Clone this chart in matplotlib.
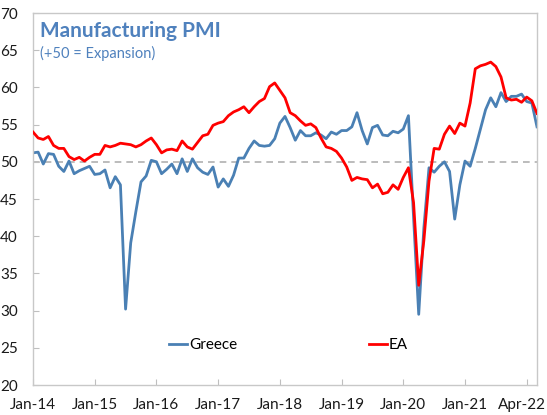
import matplotlib
matplotlib.use("Agg")
import matplotlib.pyplot as plt
import matplotlib.transforms as mtransforms
import numpy as np

# Monthly data, Jan-14 .. Mar-22
ea = [54.0, 53.2, 53.0, 53.4, 52.2, 51.8, 51.8, 50.7, 50.3, 50.6, 50.1, 50.6,
      51.0, 51.0, 52.2, 52.0, 52.2, 52.5, 52.4, 52.3, 52.0, 52.3, 52.8, 53.2,
      52.3, 51.2, 51.6, 51.7, 51.5, 52.8, 52.0, 51.7, 52.6, 53.5, 53.7, 54.9,
      55.2, 55.4, 56.2, 56.7, 57.0, 57.4, 56.6, 57.4, 58.1, 58.5, 60.1, 60.6,
      59.6, 58.6, 56.6, 56.2, 55.5, 54.9, 55.1, 54.6, 53.2, 52.0, 51.8, 51.4,
      50.5, 49.3, 47.5, 47.9, 47.7, 47.6, 46.5, 47.0, 45.7, 45.9, 46.9, 46.3,
      47.9, 49.2, 44.5, 33.4, 39.4, 47.4, 51.8, 51.7, 53.7, 54.8, 53.8, 55.2,
      54.8, 57.9, 62.5, 62.9, 63.1, 63.4, 62.8, 61.4, 58.6, 58.3, 58.4, 58.0,
      58.7, 58.2, 56.5]

greece = [51.2, 51.3, 49.7, 51.1, 51.0, 49.4, 48.7, 50.1, 48.4, 48.8, 49.1, 49.4,
          48.3, 48.4, 48.9, 46.5, 48.0, 46.9, 30.2, 39.1, 43.3, 47.3, 48.1, 50.2,
          50.0, 48.4, 49.0, 49.7, 48.4, 50.4, 48.7, 50.4, 49.2, 48.6, 48.3, 49.3,
          46.6, 47.7, 46.7, 48.2, 50.5, 50.5, 51.8, 52.8, 52.2, 52.1, 52.2, 53.1,
          55.2, 56.1, 54.6, 52.9, 54.2, 53.5, 53.5, 53.9, 53.6, 53.1, 54.0, 53.7,
          54.2, 54.2, 54.7, 56.6, 54.2, 52.4, 54.6, 54.9, 53.6, 53.5, 54.1, 53.9,
          54.4, 56.2, 42.5, 29.5, 41.1, 49.2, 48.6, 49.4, 50.0, 48.7, 42.3, 46.9,
          50.1, 49.4, 51.8, 54.4, 57.0, 58.6, 57.4, 59.3, 58.1, 58.8, 58.8, 59.1,
          58.1, 57.9, 54.7]

tick_labels = ["Jan-14", "Jan-15", "Jan-16", "Jan-17", "Jan-18",
               "Jan-19", "Jan-20", "Jan-21", "Apr-22"]
y_ticks = [20, 25, 30, 35, 40, 45, 50, 55, 60, 65, 70]

plt.rcParams['font.family'] = ['Lato', 'DejaVu Sans']

fig = plt.figure(figsize=(5.47, 4.15), dpi=100)
ax = fig.add_axes([33/547, 1 - 385/415, (537 - 33)/547, (385 - 13)/415])

x = np.arange(len(ea))
blue = '#4a80b4'
red = '#ff0000'

ax.axhline(50, color='#b0b0b0', lw=1.2, ls=(0, (4, 3)), zorder=1)
lg, = ax.plot(x, greece, color=blue, lw=2.0, solid_joinstyle='round', zorder=2)
le, = ax.plot(x, ea, color=red, lw=2.0, solid_joinstyle='round', zorder=3)

ax.set_xlim(0, len(ea) - 1)
ax.set_ylim(20, 70)
ax.set_xticks(np.arange(0, 12 * len(tick_labels), 12))
ax.set_xticklabels(tick_labels)
ax.set_yticks(y_ticks)
ax.tick_params(axis='both', direction='in', length=4, width=0.8, color='#bfbfbf',
               labelsize=11, labelcolor='#1a1a1a')
ax.tick_params(axis='x', pad=9)
ax.tick_params(axis='y', pad=11)
for s in ax.spines.values():
    s.set_color('#c8c8c8')
    s.set_linewidth(1.0)

# shift the last x label slightly left so it stays inside the figure
last = ax.get_xticklabels()[-1]
last.set_transform(last.get_transform() +
                   mtransforms.ScaledTranslation(-5/100, 0, fig.dpi_scale_trans))

ax.text(0.013, 0.978, "Manufacturing PMI", transform=ax.transAxes,
        fontsize=15, fontweight='bold', color='#4f81bd', va='top', ha='left')
ax.text(0.013, 0.912, "(+50 = Expansion)", transform=ax.transAxes,
        fontsize=10.5, color='#4f81bd', va='top', ha='left')

leg1 = ax.legend([lg], ["Greece"], loc='center left', bbox_to_anchor=(0.27, 0.107),
                 frameon=False, fontsize=11, handlelength=1.2, handletextpad=0.1,
                 borderpad=0, borderaxespad=0)
ax.add_artist(leg1)
ax.legend([le], ["EA"], loc='center left', bbox_to_anchor=(0.666, 0.107),
          frameon=False, fontsize=11, handlelength=1.2, handletextpad=0.1,
          borderpad=0, borderaxespad=0)

fig.savefig("out.png", dpi=100)
